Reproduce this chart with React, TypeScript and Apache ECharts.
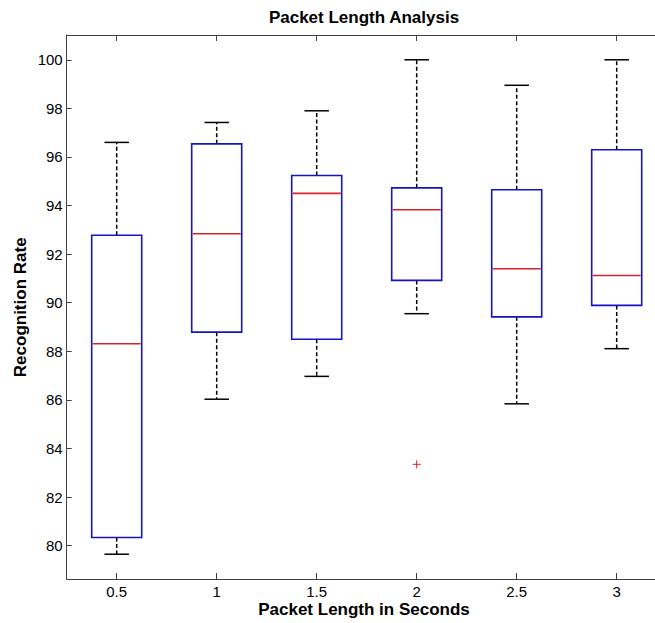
import React, { useEffect, useRef } from "react";
import * as echarts from "echarts";

const categories = ["0.5", "1", "1.5", "2", "2.5", "3"];
const whiskerLow = [79.65, 86.03, 86.97, 89.55, 85.84, 88.11];
const q1 = [80.34, 88.79, 88.5, 90.92, 89.42, 89.89];
const medians = [88.31, 92.84, 94.5, 93.83, 91.4, 91.12];
const q3 = [92.78, 96.54, 95.24, 94.73, 94.65, 96.3];
const whiskerHigh = [96.6, 97.42, 97.9, 100.0, 98.95, 100.0];
const outlierCategory = [3];
const outlierValue = [83.35];
const yTicks = [80, 82, 84, 86, 88, 90, 92, 94, 96, 98, 100];

const FONT = "Liberation Sans, Arial, Helvetica, sans-serif";
const BLUE = "#1414c4";
const RED = "#d8232a";
const BLACK = "#000000";
const AXIS = "#404040";

export default function App() {
  const ref = useRef<HTMLDivElement>(null);
  useEffect(() => {
    document.body.style.overflow = "hidden";
    document.documentElement.style.overflow = "hidden";
    const chart = echarts.init(ref.current!, null, { renderer: "svg" });
    const boxData = categories.map((_, i) => [i, whiskerLow[i], q1[i], medians[i], q3[i], whiskerHigh[i]]);
    const outData = outlierCategory.map((c, i) => [c, outlierValue[i]]);
    const option: any = {
      animation: false,
      backgroundColor: "#ffffff",
      grid: { left: 66.7, top: 35, bottom: 44, right: 13.3, containLabel: false },
      xAxis: [
        {
          type: "category",
          data: categories,
          position: "bottom",
          boundaryGap: true,
          axisLine: { show: true, lineStyle: { color: AXIS, width: 1 } },
          axisTick: { show: true, inside: true, alignWithLabel: true, length: 6, lineStyle: { color: AXIS } },
          axisLabel: { color: BLACK, fontSize: 15, fontFamily: FONT, margin: 5 },
          splitLine: { show: false },
        },
        {
          type: "category",
          data: categories,
          position: "top",
          boundaryGap: true,
          axisLine: { show: true, lineStyle: { color: AXIS, width: 1 } },
          axisTick: { show: true, inside: true, alignWithLabel: true, length: 6, lineStyle: { color: AXIS } },
          axisLabel: { show: false },
          splitLine: { show: false },
        },
      ],
      yAxis: {
        type: "value",
        min: 78.63,
        max: 101.02,
        axisLine: { show: true, lineStyle: { color: AXIS, width: 1 } },
        axisTick: { show: true, inside: true, length: 5, customValues: yTicks, lineStyle: { color: AXIS } },
        axisLabel: { color: BLACK, fontSize: 15, fontFamily: FONT, margin: 4, customValues: yTicks },
        splitLine: { show: false },
      },
      graphic: [
        {
          type: "text",
          x: 364,
          y: 17.5,
          style: { text: "Packet Length Analysis", fontSize: 17, fontWeight: "bold", fontFamily: FONT, fill: BLACK, align: "center", verticalAlign: "middle" },
        },
        {
          type: "text",
          x: 364,
          y: 609.7,
          style: { text: "Packet Length in Seconds", fontSize: 17, fontWeight: "bold", fontFamily: FONT, fill: BLACK, align: "center", verticalAlign: "middle" },
        },
        {
          type: "text",
          x: 20,
          y: 307.3,
          rotation: Math.PI / 2,
          style: { text: "Recognition Rate", fontSize: 17, fontWeight: "bold", fontFamily: FONT, fill: BLACK, align: "center", verticalAlign: "middle" },
        },
      ],
      series: [
        {
          type: "custom",
          xAxisIndex: 0,
          data: boxData,
          encode: { x: 0, y: [1, 2, 3, 4, 5] },
          renderItem: (params: any, api: any) => {
            const idx = api.value(0);
            const pLow = api.coord([idx, api.value(1)]);
            const pQ1 = api.coord([idx, api.value(2)]);
            const pMed = api.coord([idx, api.value(3)]);
            const pQ3 = api.coord([idx, api.value(4)]);
            const pHigh = api.coord([idx, api.value(5)]);
            const band = api.size([1, 0])[0];
            const bw = band * 0.5;
            const cw = band * 0.245;
            const cx = pMed[0];
            const dash = { stroke: BLACK, lineWidth: 1.5, lineDash: [4, 2.5] };
            const solid = { stroke: BLACK, lineWidth: 1.5 };
            return {
              type: "group",
              children: [
                { type: "line", shape: { x1: cx, y1: pQ3[1], x2: cx, y2: pHigh[1] }, style: dash },
                { type: "line", shape: { x1: cx, y1: pQ1[1], x2: cx, y2: pLow[1] }, style: dash },
                { type: "line", shape: { x1: cx - cw / 2, y1: pHigh[1], x2: cx + cw / 2, y2: pHigh[1] }, style: solid },
                { type: "line", shape: { x1: cx - cw / 2, y1: pLow[1], x2: cx + cw / 2, y2: pLow[1] }, style: solid },
                {
                  type: "rect",
                  shape: { x: cx - bw / 2, y: pQ3[1], width: bw, height: pQ1[1] - pQ3[1] },
                  style: { fill: "none", stroke: BLUE, lineWidth: 1.6 },
                },
                { type: "line", shape: { x1: cx - bw / 2 + 1, y1: pMed[1], x2: cx + bw / 2 - 1, y2: pMed[1] }, style: { stroke: RED, lineWidth: 1.6 } },
              ],
            };
          },
        },
        {
          type: "custom",
          xAxisIndex: 0,
          data: outData,
          encode: { x: 0, y: 1 },
          renderItem: (params: any, api: any) => {
            const p = api.coord([api.value(0), api.value(1)]);
            const s = 4;
            const st = { stroke: RED, lineWidth: 1 };
            return {
              type: "group",
              children: [
                { type: "line", shape: { x1: p[0] - s, y1: p[1], x2: p[0] + s, y2: p[1] }, style: st },
                { type: "line", shape: { x1: p[0], y1: p[1] - s, x2: p[0], y2: p[1] + s }, style: st },
              ],
            };
          },
        },
      ],
    };
    chart.setOption(option);
    return () => chart.dispose();
  }, []);
  return <div ref={ref} style={{ position: "fixed", left: 0, top: 0, width: 680, height: 623 }} />;
}
